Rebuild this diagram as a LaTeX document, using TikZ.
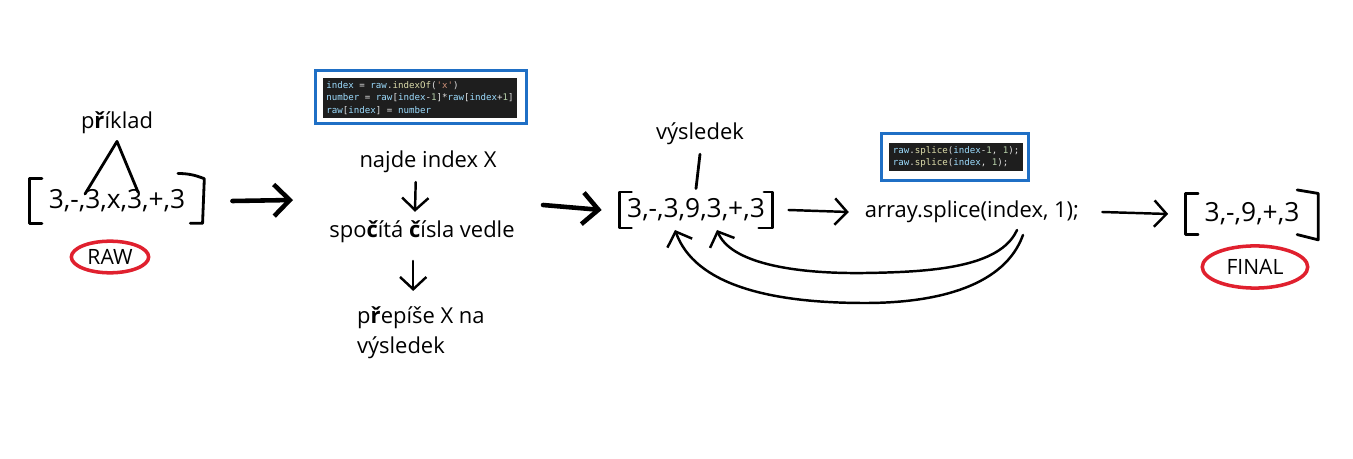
\documentclass[tikz,border=0pt]{standalone}
\usepackage{fontspec}
\setmainfont{Open Sans}
\newfontfamily\codefont{DejaVu Sans Mono}
\usepackage{tikz}
\usetikzlibrary{positioning, arrows.meta, calc, shapes.geometric}

\definecolor{framebl}{HTML}{1F6FC5}
\definecolor{codebg}{HTML}{1E1E1E}
\definecolor{cvar}{HTML}{9CDCFE}
\definecolor{cfun}{HTML}{DCDCAA}
\definecolor{cstr}{HTML}{CE9178}
\definecolor{cnum}{HTML}{B5CEA8}
\definecolor{ringred}{HTML}{E0202E}

\tikzset{
  hand/.style={font=\fontsize{12.5}{17}\selectfont, inner sep=1pt},
  arr/.style={font=\fontsize{15}{17}\selectfont, inner sep=0pt},
  brk/.style={line width=1.6pt, line cap=round, line join=round},
  thickarrow/.style={line width=2.6pt, line cap=round, -{Straight Barb[length=9pt, width=18pt, line width=2.6pt]}},
  thinarrow/.style={line width=1.4pt, line cap=round, -{Straight Barb[length=7pt, width=15pt, line width=1.4pt]}},
  ring/.style={draw=ringred, line width=2pt, ellipse, inner sep=1pt, font=\fontsize{12}{14}\selectfont},
  code/.style={fill=codebg, text=white!88!black, align=left, inner sep=2pt,
    font=\codefont\fontsize{5.2}{7.2}\selectfont},
  frame/.style={draw=framebl, line width=1.8pt}
}

\begin{document}
\begin{tikzpicture}[x=0.02cm, y=-0.02cm]
  \useasboundingbox[fill=white] (0,0) rectangle (1353,459);

  % vstupni pole
  \node[arr, minimum width=99pt, minimum height=25pt] (raw) at (117,201) {3,-,3,x,3,+,3};
  \draw[brk] ([xshift=7pt]raw.north west) -- (raw.north west) -- (raw.south west) -- ([xshift=7pt]raw.south west);
  \draw[brk] ([xshift=-15pt,yshift=3pt]raw.north east) to[bend left=10] (raw.north east)
    -- ([xshift=-1pt]raw.south east) -- ([xshift=-8pt]raw.south east);
  \node[ring, minimum width=44pt, minimum height=18pt] (rawtag) at (110,257) {RAW};

  \node[hand] (priklad) at (117,123) {p\textbf{ř}íklad};
  \coordinate (footL) at (85,194);
  \coordinate (footR) at (138,192);
  \draw[brk] (footL) -- ([yshift=-3pt]priklad.south) -- (footR);

  % postup
  \node[code] (code1) at (420,98) {%
    \textcolor{cvar}{index} = \textcolor{cvar}{raw}.\textcolor{cfun}{indexOf}(\textcolor{cstr}{\textquotesingle x\textquotesingle})\\
    \textcolor{cvar}{number} = \textcolor{cvar}{raw}[\textcolor{cvar}{index}-\textcolor{cnum}{1}]*\textcolor{cvar}{raw}[\textcolor{cvar}{index}+\textcolor{cnum}{1}]\\
    \textcolor{cvar}{raw}[\textcolor{cvar}{index}] = \textcolor{cvar}{number}};
  \draw[frame] ([shift={(-4pt,4pt)}]code1.north west) rectangle ([shift={(5pt,-3pt)}]code1.south east);

  \node[hand] (najde) at (428,162) {najde index X};
  \node[hand] (spocita) at (422,232) {spo\textbf{č}ítá \textbf{č}ísla vedle};
  \node[hand, align=left, anchor=north west] (prepise) at (355,305) {p\textbf{ř}epíše X na\\výsledek};

  \draw[thinarrow] ([xshift=-7pt,yshift=-4pt]najde.south) -- ([xshift=-4pt,yshift=4pt]spocita.north);
  \draw[thinarrow] ([xshift=-5pt,yshift=-9pt]spocita.south) -- ([xshift=-5pt,yshift=8pt]spocita.south |- prepise.north);

  \coordinate (in1) at (293,200);
  \draw[thickarrow] ([xshift=16pt]raw.east) -- (in1);

  % vysledek
  \node[arr, minimum width=87pt, minimum height=20pt] (res) at (696,210) {3,-,3,9,3,+,3};
  \draw[brk] ([xshift=7pt]res.north west) -- (res.north west) -- (res.south west) -- ([xshift=7pt]res.south west);
  \draw[brk] ([xshift=-5pt]res.north east) -- (res.north east) -- (res.south east) -- ([xshift=-8pt]res.south east);

  \node[hand] (vysl) at (700,134) {výsledek};
  \draw[brk] ([yshift=-4pt]vysl.south) -- ([yshift=2pt]res.north);

  \coordinate (out1) at (543,205);
  \draw[thickarrow] (out1) -- ([xshift=-10pt]res.west);

  % mazani
  \node[hand] (splice) at (972,212) {array.splice(index, 1);};
  \node[code] (code2) at (956,157) {%
    \textcolor{cvar}{raw}.\textcolor{cfun}{splice}(\textcolor{cvar}{index}-\textcolor{cnum}{1}, \textcolor{cnum}{1});\\
    \textcolor{cvar}{raw}.\textcolor{cfun}{splice}(\textcolor{cvar}{index}, \textcolor{cnum}{1});};
  \draw[frame] ([shift={(-4pt,5pt)}]code2.north west) rectangle ([shift={(3pt,-5pt)}]code2.south east);

  \draw[thinarrow] ([xshift=9pt]res.east) -- ([xshift=-8pt]splice.west);

  \coordinate (back1) at (1017,230);
  \coordinate (back2) at (1023,235);
  \draw[thinarrow] (back1) .. controls (1000,268) and (930,272) .. (865,273)
    .. controls (790,274) and (730,262) .. (717,230);
  \draw[thinarrow] (back2) .. controls (1005,285) and (940,303) .. (865,303)
    .. controls (770,303) and (695,285) .. (675,230);

  % konecne pole
  \node[arr, minimum width=75pt, minimum height=23pt] (final) at (1252,214) {3,-,9,+,3};
  \draw[brk] ([xshift=7pt]final.north west) -- (final.north west) -- (final.south west) -- ([xshift=7pt]final.south west);
  \draw[brk] ([xshift=-12pt,yshift=2pt]final.north east) -- (final.north east) -- ([yshift=-3pt]final.south east) -- ([xshift=-12pt]final.south east);
  \node[ring, minimum width=60pt, minimum height=24pt] (finaltag) at (1255,267) {FINAL};

  \draw[thinarrow] ([xshift=12pt]splice.east) -- ([xshift=-10pt]final.west);

\end{tikzpicture}
\end{document}
